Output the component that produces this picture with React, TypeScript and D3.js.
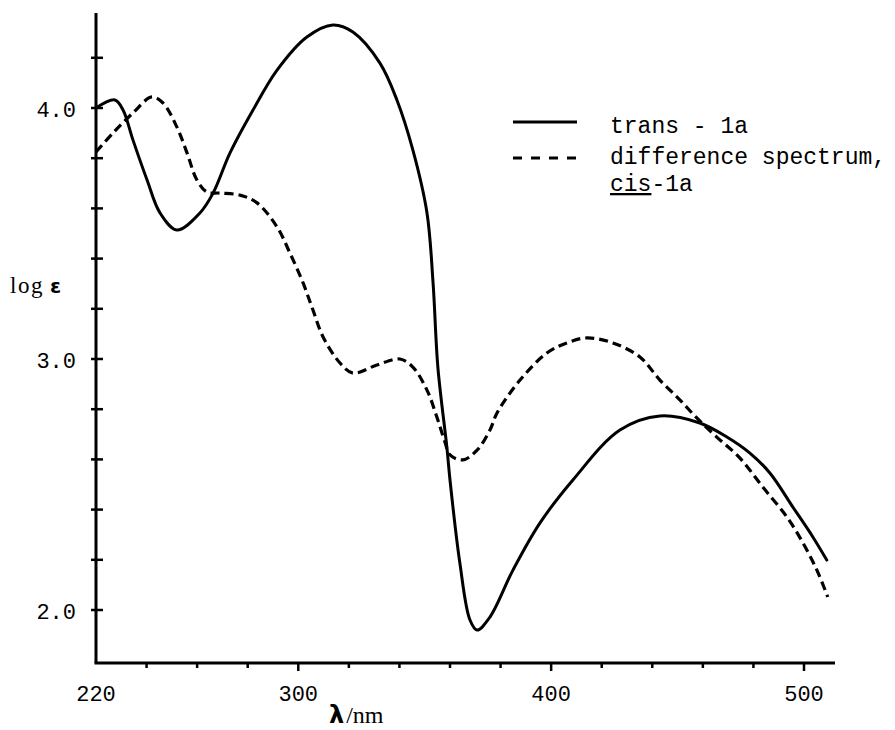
import React from "react";
import * as d3 from "d3";

// trans-1a spectrum (wavelength nm, log eps)
const transWl = [220, 227.5, 230.7, 234.6, 240.2, 245.3, 252.0, 261.1, 266.3, 273.0, 282.1, 291.6, 303.4, 313.7, 321.6, 332.3, 339.0, 345.3, 350.9, 353.3, 355.2, 358.8, 360.0, 363.9, 367.9, 370.7, 375.8, 384.9, 395.6, 408.6, 427.2, 443.0, 458.8, 469.5, 478.6, 486.5, 495.6, 503.5, 509.0];
const transLog = [4.0, 4.032, 3.992, 3.873, 3.713, 3.582, 3.514, 3.582, 3.661, 3.821, 3.992, 4.151, 4.283, 4.331, 4.303, 4.179, 4.032, 3.833, 3.582, 3.303, 2.968, 2.645, 2.518, 2.187, 1.96, 1.92, 1.972, 2.159, 2.347, 2.518, 2.717, 2.773, 2.745, 2.689, 2.625, 2.546, 2.41, 2.291, 2.199];

// difference spectrum, cis-1a
const cisWl = [220, 226.7, 234.6, 242.1, 246.5, 252.0, 256.0, 259.9, 263.9, 269.0, 276.9, 283.7, 291.6, 296.7, 301.9, 305.8, 309.8, 316.5, 321.6, 331.1, 340.2, 345.3, 350.9, 354.8, 358.0, 360.0, 365.1, 370.7, 375.8, 378.6, 387.7, 398.3, 406.2, 414.1, 424.4, 435.1, 443.0, 450.9, 457.6, 465.5, 474.6, 483.7, 493.2, 499.6, 505.1, 509.4];
const cisLog = [3.825, 3.9, 3.98, 4.044, 4.02, 3.924, 3.821, 3.713, 3.665, 3.661, 3.653, 3.622, 3.526, 3.422, 3.303, 3.195, 3.088, 2.984, 2.944, 2.976, 3.0, 2.968, 2.876, 2.769, 2.669, 2.618, 2.598, 2.637, 2.717, 2.785, 2.916, 3.024, 3.064, 3.084, 3.064, 3.008, 2.916, 2.837, 2.765, 2.689, 2.606, 2.49, 2.371, 2.267, 2.159, 2.052];

const xTickLabels = ["220", "300", "400", "500"];
const xTickValues = [220, 300, 400, 500];
const yTickLabels = ["4.0", "3.0", "2.0"];
const yTickValues = [4.0, 3.0, 2.0];
const legendLabels = ["trans - 1a", "difference spectrum,"];

export default function App() {
  const W = 895, H = 730;
  const x = d3.scaleLinear().domain([220, 500]).range([96, 804]);
  const y = d3.scaleLinear().domain([2.0, 4.0]).range([610, 108]);
  const x0 = 96, yAxisTop = 13, xAxisY = 663, xAxisEnd = 835;

  const line = d3
    .line<[number, number]>()
    .x((d) => x(d[0]))
    .y((d) => y(d[1]))
    .curve(d3.curveCatmullRom.alpha(0.5));

  const transPts = transWl.map((w, i) => [w, transLog[i]] as [number, number]);
  const cisPts = cisWl.map((w, i) => [w, cisLog[i]] as [number, number]);

  const yMinor = d3.range(2.0, 4.21, 0.2);
  const xMinor = d3.range(240, 501, 20);
  const numFont = "'Liberation Mono', 'DejaVu Sans Mono', monospace";

  return (
    <svg width={W} height={H} style={{ position: "absolute", left: 0, top: 0, background: "#fff" }}>
      <rect x={0} y={0} width={W} height={H} fill="#fff" />
      {/* axes */}
      <line x1={x0} y1={yAxisTop} x2={x0} y2={xAxisY} stroke="#000" strokeWidth={3} />
      <line x1={x0 - 1.5} y1={xAxisY} x2={xAxisEnd} y2={xAxisY} stroke="#000" strokeWidth={3} />
      {yMinor.map((v, i) => (
        <line key={"yt" + i} x1={x0 - 5} x2={x0 + 7} y1={y(v)} y2={y(v)} stroke="#000" strokeWidth={2.5} />
      ))}
      {xMinor.map((v, i) => {
        const major = v % 100 === 0;
        return (
          <line key={"xt" + i} x1={x(v)} x2={x(v)} y1={xAxisY} y2={xAxisY + (major ? 8 : 5)} stroke="#000" strokeWidth={2.5} />
        );
      })}
      {yTickValues.map((v, i) => (
        <text key={"yl" + i} x={76} y={y(v) + 3} textAnchor="end" dominantBaseline="middle" fontFamily={numFont} fontSize={22} fill="#000">
          {yTickLabels[i]}
        </text>
      ))}
      {xTickValues.map((v, i) => (
        <text key={"xl" + i} x={x(v)} y={701} textAnchor="middle" fontFamily={numFont} fontSize={22} fill="#000">
          {xTickLabels[i]}
        </text>
      ))}
      {/* axis titles */}
      <text x={10} y={293} fontFamily="'Liberation Serif', serif" fontSize={23} letterSpacing={1.5} fill="#000">
        log
        <tspan dx={6} fontWeight="bold" fontFamily="'DejaVu Sans', sans-serif" fontSize={20}>ε</tspan>
      </text>
      <text x={329} y={723} fontFamily="'Liberation Serif', serif" fontSize={24} fill="#000">
        <tspan fontWeight="bold" fontFamily="'DejaVu Sans', sans-serif" fontSize={24}>λ</tspan>
        <tspan dx={2}>/nm</tspan>
      </text>
      {/* curves */}
      <path d={line(transPts) || ""} fill="none" stroke="#000" strokeWidth={3} strokeLinejoin="round" strokeLinecap="round" />
      <path d={line(cisPts) || ""} fill="none" stroke="#000" strokeWidth={3.2} strokeDasharray="9,5" />
      {/* legend */}
      <line x1={513} x2={577} y1={122} y2={122} stroke="#000" strokeWidth={3} />
      <line x1={513} x2={577} y1={158} y2={158} stroke="#000" strokeWidth={3} strokeDasharray="9,9" />
      <text x={610} y={133} fontFamily={numFont} fontSize={23} fill="#000">{legendLabels[0]}</text>
      <text x={610} y={164} fontFamily={numFont} fontSize={23} fill="#000">{legendLabels[1]}</text>
      <text x={610} y={191} fontFamily={numFont} fontSize={23} fill="#000">
        <tspan textDecoration="underline" style={{ textDecoration: "underline" }}>cis</tspan>-1a
      </text>
    </svg>
  );
}
